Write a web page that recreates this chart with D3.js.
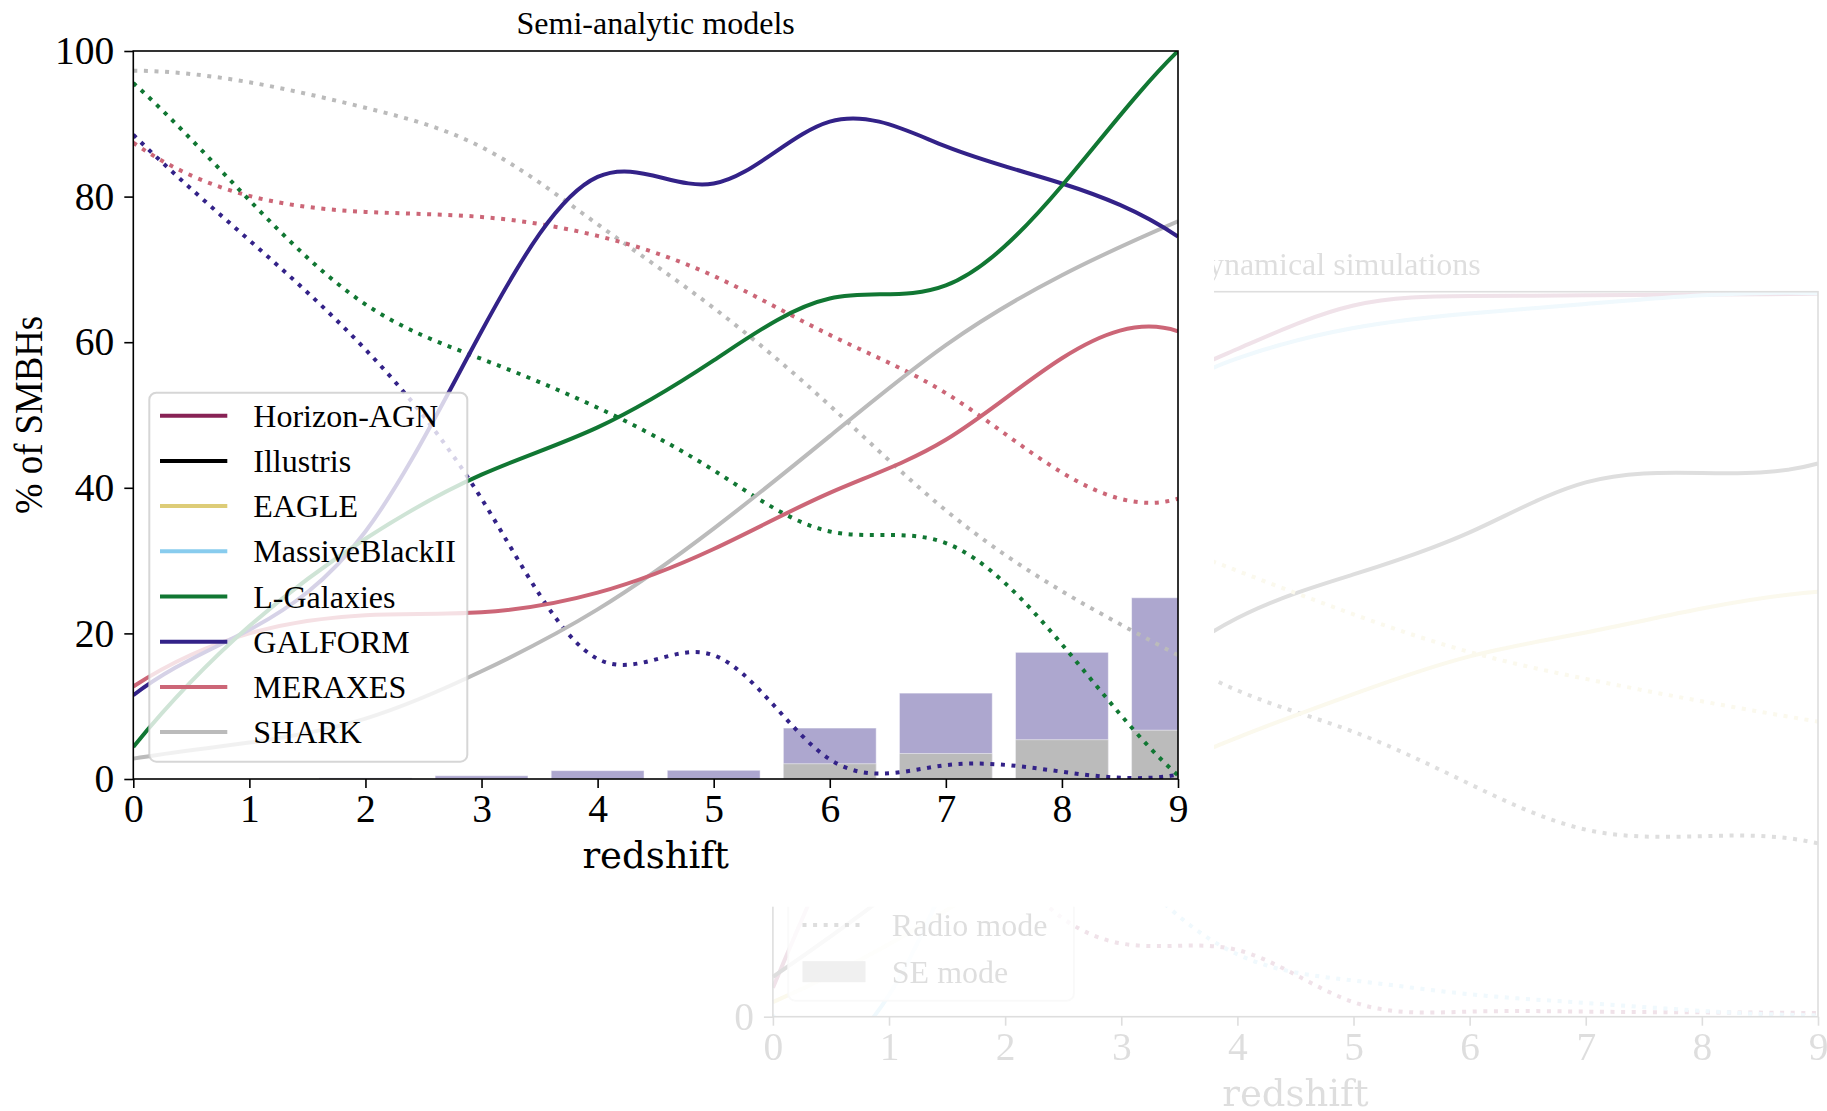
<!DOCTYPE html>
<html>
<head>
<meta charset="utf-8">
<script src="https://cdn.jsdelivr.net/npm/d3@7"></script>
<style>
  html, body { margin: 0; padding: 0; background: #ffffff; }
  svg { display: block; }
</style>
</head>
<body>
<svg id="chart" width="1827" height="1111"></svg>
<script>
// ---------------- data ----------------
const redshift = [0, 1, 2, 3, 4, 5, 6, 7, 8, 9];
const percentTicks = [0, 20, 40, 60, 80, 100];

const modelNames  = ["Horizon-AGN", "Illustris", "EAGLE", "MassiveBlackII", "L-Galaxies", "GALFORM", "MERAXES", "SHARK"];
const modelColors = ["#882255", "#000000", "#DDCC77", "#88CCEE", "#117733", "#332288", "#CC6677", "#BBBBBB"];

// Semi-analytic models: solid = SE mode, dotted = radio mode (% of SMBHs)
const lgalaxiesSE    = [4.4, 21.0, 33.0, 41.8, 48.3, 57.5, 66.0, 67.8, 81.5, 100.0];
const lgalaxiesRadio = [95.6, 79.5, 65.2, 57.7, 51.0, 42.4, 34.0, 32.4, 18.5, 0.5];
const galformSE      = [11.5, 20.5, 34.0, 61.5, 82.7, 81.8, 90.3, 86.9, 81.8, 74.5];
const galformRadio   = [88.5, 74.0, 59.0, 38.5, 16.5, 17.0, 2.7, 1.9, 1.0, 0.6];
const meraxesSE      = [12.7, 20.0, 22.5, 22.9, 25.6, 31.6, 39.3, 46.6, 57.8, 61.5];
const meraxesRadio   = [87.4, 80.1, 77.9, 77.2, 74.6, 69.1, 61.0, 53.0, 42.1, 38.5];
const sharkSE        = [2.8, 5.0, 8.3, 14.8, 23.3, 34.4, 47.1, 59.6, 69.2, 76.6];
const sharkRadio     = [97.3, 95.7, 92.2, 86.8, 76.2, 64.7, 51.3, 36.9, 25.8, 17.0];

// Bars (% of SMBHs in neither mode)
const galformBars = [0, 0, 0.15, 0.45, 1.15, 1.2, 7.0, 11.8, 17.4, 24.9];
const sharkBars   = [0, 0, 0, 0, 0, 0, 2.1, 3.5, 5.4, 6.7];

// Hydrodynamical simulations
const horizonSE      = [4.0, 40.0, 68.0, 84.0, 92.1, 98.1, 99.4, 99.5, 99.6, 99.7];
const horizonRadio   = [95.0, 55.0, 22.0, 10.1, 9.2, 2.0, 0.7, 0.7, 0.6, 0.5];
const illustrisSE    = [5.5, 17.0, 30.0, 44.0, 55.0, 61.0, 66.8, 73.7, 75.0, 76.3];
const illustrisRadio = [93.0, 80.0, 66.0, 54.0, 45.0, 39.3, 32.1, 25.8, 24.9, 23.9];
const eagleSE        = [2.0, 10.0, 20.0, 31.0, 38.5, 44.5, 49.7, 53.0, 56.3, 58.6];
const eagleRadio     = [95.0, 85.0, 76.0, 68.0, 61.5, 55.5, 50.3, 46.6, 43.5, 40.7];
const mb2SE          = [0.2, 3.0, 40.0, 78.0, 90.8, 95.0, 97.0, 98.3, 99.5, 99.8];
const mb2Radio       = [90.0, 68.0, 45.0, 22.0, 8.6, 5.0, 3.1, 1.9, 0.8, 0.2];

const modeLabels = ["Radio mode", "SE mode"];

// ---------------- cubic spline curve (not-a-knot ends) ----------------
function curveSpline(context) {
  let xs = [], ys = [];
  function solve(A, b) {
    const n = b.length;
    for (let c = 0; c < n; c++) {
      let p = c;
      for (let r = c + 1; r < n; r++) if (Math.abs(A[r][c]) > Math.abs(A[p][c])) p = r;
      [A[c], A[p]] = [A[p], A[c]]; [b[c], b[p]] = [b[p], b[c]];
      for (let r = c + 1; r < n; r++) {
        const f = A[r][c] / A[c][c];
        for (let k = c; k < n; k++) A[r][k] -= f * A[c][k];
        b[r] -= f * b[c];
      }
    }
    const x = new Array(n).fill(0);
    for (let r = n - 1; r >= 0; r--) {
      let s = b[r];
      for (let k = r + 1; k < n; k++) s -= A[r][k] * x[k];
      x[r] = s / A[r][r];
    }
    return x;
  }
  return {
    areaStart() {}, areaEnd() {},
    lineStart() { xs = []; ys = []; },
    point(x, y) { xs.push(+x); ys.push(+y); },
    lineEnd() {
      const n = xs.length;
      if (!n) return;
      context.moveTo(xs[0], ys[0]);
      if (n < 4) { for (let i = 1; i < n; i++) context.lineTo(xs[i], ys[i]); return; }
      const h = [];
      for (let i = 0; i < n - 1; i++) h.push(xs[i + 1] - xs[i]);
      const A = Array.from({ length: n }, () => new Array(n).fill(0));
      const b = new Array(n).fill(0);
      A[0][0] = h[1]; A[0][1] = -(h[0] + h[1]); A[0][2] = h[0];
      for (let i = 1; i < n - 1; i++) {
        A[i][i - 1] = h[i - 1];
        A[i][i] = 2 * (h[i - 1] + h[i]);
        A[i][i + 1] = h[i];
        b[i] = 6 * ((ys[i + 1] - ys[i]) / h[i] - (ys[i] - ys[i - 1]) / h[i - 1]);
      }
      A[n - 1][n - 3] = h[n - 2]; A[n - 1][n - 2] = -(h[n - 3] + h[n - 2]); A[n - 1][n - 1] = h[n - 3];
      const M = solve(A, b);
      for (let i = 0; i < n - 1; i++) {
        const s = (ys[i + 1] - ys[i]) / h[i];
        const m0 = s - h[i] * (2 * M[i] + M[i + 1]) / 6;
        const m1 = s + h[i] * (M[i] + 2 * M[i + 1]) / 6;
        context.bezierCurveTo(
          xs[i] + h[i] / 3, ys[i] + m0 * h[i] / 3,
          xs[i + 1] - h[i] / 3, ys[i + 1] - m1 * h[i] / 3,
          xs[i + 1], ys[i + 1]);
      }
    }
  };
}

// ---------------- drawing ----------------
const svg = d3.select("#chart");
const SERIF = "'Liberation Serif', 'Times New Roman', serif";
const LABEL_FONT = "'DejaVu Serif', serif";
const LW = 4;
const DOTS = "4,6.6";
const colorOf = name => modelColors[modelNames.indexOf(name)];

function drawPanel(root, id, f, spec) {
  const x = d3.scaleLinear().domain([0, 9]).range([f.left, f.right]);
  const y = d3.scaleLinear().domain([0, 100]).range([f.bottom, f.top]);

  root.append("clipPath").attr("id", id + "-clip")
    .append("rect")
    .attr("x", f.left).attr("y", f.top)
    .attr("width", f.right - f.left).attr("height", f.bottom - f.top);

  const plot = root.append("g").attr("clip-path", `url(#${id}-clip)`);

  // bars
  spec.bars.forEach(b => {
    plot.append("g").selectAll("rect")
      .data(b.values.map((v, i) => ({ z: redshift[i], v })))
      .join("rect")
      .attr("x", d => x(d.z - 0.4))
      .attr("width", x(0.8) - x(0))
      .attr("y", d => y(d.v))
      .attr("height", d => y(0) - y(d.v))
      .attr("fill", b.color)
      .attr("stroke", "#ffffff")
      .attr("stroke-opacity", d => d.v > 0 ? 0.5 : 0)
      .attr("stroke-width", 1);
  });

  // curves
  const line = d3.line()
    .x((d, i) => x(redshift[i]))
    .y(d => y(d))
    .curve(curveSpline);

  spec.lines.forEach(l => {
    plot.append("path")
      .attr("d", line(l.values))
      .attr("fill", "none")
      .attr("stroke", l.color)
      .attr("stroke-width", LW)
      .attr("stroke-linecap", "butt")
      .attr("stroke-dasharray", l.dotted ? DOTS : null);
  });

  // axes
  const xAxis = d3.axisBottom(x).tickValues(redshift).tickSize(9).tickSizeOuter(0).tickPadding(6);
  const yAxis = d3.axisLeft(y).tickValues(percentTicks).tickSize(9).tickSizeOuter(0).tickPadding(10);

  const gx = root.append("g").attr("transform", `translate(0,${f.bottom})`).call(xAxis);
  const gy = root.append("g").attr("transform", `translate(${f.left},0)`).call(yAxis);
  [gx, gy].forEach(g => {
    g.select(".domain").remove();
    g.selectAll(".tick line").attr("stroke", "#000").attr("stroke-width", 1.6);
    g.selectAll(".tick text")
      .attr("fill", "#000")
      .style("font-family", SERIF)
      .style("font-size", "39.5px");
  });

  // frame
  root.append("rect")
    .attr("x", f.left).attr("y", f.top)
    .attr("width", f.right - f.left).attr("height", f.bottom - f.top)
    .attr("fill", "none").attr("stroke", "#000").attr("stroke-width", 1.6);

  const cx = (f.left + f.right) / 2;

  // title
  root.append("text")
    .attr("x", cx).attr("y", f.top - 17)
    .attr("text-anchor", "middle")
    .style("font-family", SERIF).style("font-size", "32px")
    .text(spec.title);

  // x label
  root.append("text")
    .attr("x", cx).attr("y", f.bottom + 89)
    .attr("text-anchor", "middle")
    .style("font-family", LABEL_FONT).style("font-size", "37px")
    .text("redshift");

  // y label
  root.append("text")
    .attr("transform", `translate(${f.left - 91},${(f.top + f.bottom) / 2}) rotate(-90)`)
    .attr("text-anchor", "middle")
    .attr("textLength", 198)
    .attr("lengthAdjust", "spacingAndGlyphs")
    .style("font-family", SERIF).style("font-size", "40px")
    .text("% of SMBHs");

  // legend
  const L = spec.legend;
  const lg = root.append("g");
  lg.append("rect")
    .attr("x", L.x).attr("y", L.y)
    .attr("width", L.w).attr("height", L.h)
    .attr("rx", 7).attr("ry", 7)
    .attr("fill", "#ffffff").attr("fill-opacity", 0.8)
    .attr("stroke", "#cccccc").attr("stroke-opacity", 0.8).attr("stroke-width", 2);

  const items = lg.selectAll("g.item").data(L.items).join("g")
    .attr("class", "item")
    .attr("transform", (d, i) => `translate(0,${L.firstY + i * L.step})`);

  items.each(function (d) {
    const it = d3.select(this);
    if (d.kind === "patch") {
      it.append("rect")
        .attr("x", L.hx0).attr("y", -10.5)
        .attr("width", L.hx1 - L.hx0).attr("height", 21)
        .attr("fill", d.color);
    } else {
      it.append("line")
        .attr("x1", L.hx0).attr("x2", L.hx1)
        .attr("y1", 0).attr("y2", 0)
        .attr("stroke", d.color).attr("stroke-width", LW)
        .attr("stroke-dasharray", d.kind === "dotted" ? DOTS : null);
    }
    it.append("text")
      .attr("x", L.tx).attr("y", 11)
      .style("font-family", SERIF).style("font-size", "32px")
      .text(d.label);
  });
}

// ---- hydrodynamical panel (behind, faded) ----
const back = svg.append("g").attr("opacity", 0.13);
drawPanel(back, "hydro",
  { left: 772.9, right: 1818, top: 291.7, bottom: 1016.7 },
  {
    title: "Hydrodynamical simulations",
    bars: [],
    lines: [
      { values: horizonSE,      color: colorOf("Horizon-AGN"),    dotted: false },
      { values: horizonRadio,   color: colorOf("Horizon-AGN"),    dotted: true  },
      { values: illustrisSE,    color: colorOf("Illustris"),      dotted: false },
      { values: illustrisRadio, color: colorOf("Illustris"),      dotted: true  },
      { values: eagleSE,        color: colorOf("EAGLE"),          dotted: false },
      { values: eagleRadio,     color: colorOf("EAGLE"),          dotted: true  },
      { values: mb2SE,          color: colorOf("MassiveBlackII"), dotted: false },
      { values: mb2Radio,       color: colorOf("MassiveBlackII"), dotted: true  }
    ],
    legend: {
      x: 788.2, y: 880, w: 285.7, h: 120.7,
      firstY: 925, step: 46.7, hx0: 802.5, hx1: 865.5, tx: 891.8,
      items: [
        { label: modeLabels[0], color: "#000000", kind: "dotted" },
        { label: modeLabels[1], color: "#888888", kind: "patch" }
      ]
    }
  });

// ---- semi-analytic panel (front) ----
svg.append("rect")
  .attr("x", 0).attr("y", 0).attr("width", 1214).attr("height", 906.7)
  .attr("fill", "#ffffff");

const front = svg.append("g");
drawPanel(front, "sam",
  { left: 133.3, right: 1178, top: 51, bottom: 779 },
  {
    title: "Semi-analytic models",
    bars: [
      { values: galformBars, color: "#ADA7CF" },
      { values: sharkBars,   color: "#BBBBBB" }
    ],
    lines: [
      { values: sharkRadio,     color: colorOf("SHARK"),      dotted: true  },
      { values: meraxesRadio,   color: colorOf("MERAXES"),    dotted: true  },
      { values: galformRadio,   color: colorOf("GALFORM"),    dotted: true  },
      { values: lgalaxiesRadio, color: colorOf("L-Galaxies"), dotted: true  },
      { values: sharkSE,        color: colorOf("SHARK"),      dotted: false },
      { values: meraxesSE,      color: colorOf("MERAXES"),    dotted: false },
      { values: galformSE,      color: colorOf("GALFORM"),    dotted: false },
      { values: lgalaxiesSE,    color: colorOf("L-Galaxies"), dotted: false }
    ],
    legend: {
      x: 149.3, y: 392.7, w: 318, h: 369,
      firstY: 415.7, step: 45.2, hx0: 160, hx1: 227.3, tx: 253.3,
      items: modelNames.map((n, i) => ({ label: n, color: modelColors[i], kind: "solid" }))
    }
  });
</script>
</body>
</html>
